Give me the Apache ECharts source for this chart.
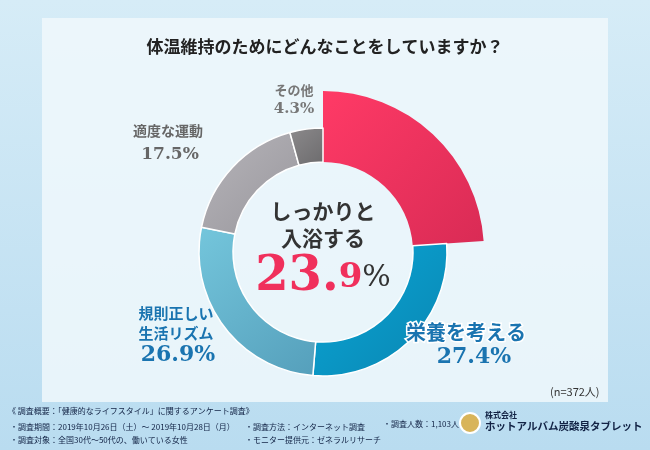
<!DOCTYPE html>
<html><head><meta charset="utf-8">
<script src="https://cdn.jsdelivr.net/npm/echarts@6/dist/echarts.min.js"></script>
<style>html,body{margin:0;padding:0}#main{width:650px;height:450px}</style>
</head><body><div id="main"></div>
<script>
var categories = ['しっかりと入浴する', '栄養を考える', '規則正しい生活リズム', '適度な運動', 'その他'];
var values = [23.9, 27.4, 26.9, 17.5, 4.3];
var colors = [['#ff3a66', '#d92b55'], ['#0aa6d6', '#0a86b2'], ['#74c6dc', '#559fbb'], ['#b7b5ba', '#98969c'], ['#8c8a8c', '#6c6b6d']];

function grad(c) {
    return new echarts.graphic.LinearGradient(0, 0, 1, 1, [{ offset: 0, color: c[0] }, { offset: 1, color: c[1] }]);
}

var serif = '"DejaVu Serif", "Noto Sans CJK JP", serif';
var jp = '"Noto Sans CJK JP", sans-serif';

var chart = echarts.init(document.getElementById('main'));

var bigData = values.map(function (v, i) {
    return { name: categories[i], value: v, itemStyle: { color: i === 0 ? grad(colors[0]) : 'transparent', borderWidth: 0 } };
});
var smallData = values.map(function (v, i) {
    return { name: categories[i], value: v, itemStyle: { color: i === 0 ? 'transparent' : grad(colors[i]), borderColor: i === 0 ? 'transparent' : '#fff', borderWidth: i === 0 ? 0 : 1.5 } };
});

function t(x, y, style) {
    style.fontFamily = style.fontFamily || jp;
    return { type: 'text', x: x, y: y, z: 100, style: style };
}

var option = {
    backgroundColor: new echarts.graphic.LinearGradient(0, 0, 0, 1, [{ offset: 0, color: '#d6ecf7' }, { offset: 1, color: '#b9dcf0' }]),
    graphic: [
        { type: 'rect', z: -10, shape: { x: 42, y: 18, width: 566, height: 384 }, style: { fill: 'rgba(240,248,252,0.85)' } },
        t(325, 38, { text: '体温維持のためにどんなことをしていますか？', fontSize: 17, fontWeight: 'bold', fill: '#222', align: 'center' }),
        t(294, 84, { text: 'その他', fontSize: 13, fontWeight: 'bold', fill: '#777', align: 'center' }),
        t(294, 102, { text: '4.3%', fontSize: 15, fontWeight: 'bold', fill: '#777', fontFamily: serif, align: 'center' }),
        t(168, 124, { text: '適度な運動', fontSize: 14, fontWeight: 'bold', fill: '#666', align: 'center' }),
        t(170, 146, { text: '17.5%', fontSize: 17, fontWeight: 'bold', fill: '#666', fontFamily: serif, align: 'center' }),
        t(176, 303, { text: '規則正しい\n生活リズム', fontSize: 15, lineHeight: 20, fontWeight: 'bold', fill: '#1a74b0', align: 'center' }),
        t(178, 344, { text: '26.9%', fontSize: 22, fontWeight: 'bold', fill: '#1a74b0', fontFamily: serif, align: 'center' }),
        t(466, 322, { text: '栄養を考える', fontSize: 20, fontWeight: 'bold', fill: '#1a74b0', align: 'center', stroke: '#fff', lineWidth: 3 }),
        t(474, 346, { text: '27.4%', fontSize: 22, fontWeight: 'bold', fill: '#1a74b0', fontFamily: serif, align: 'center' }),
        t(323, 198, { text: 'しっかりと\n入浴する', fontSize: 21, lineHeight: 27, fontWeight: 'bold', fill: '#333', align: 'center' }),
        t(323, 254, { text: '{a|23.}{b|9}{c|%}', align: 'center', rich: {
            a: { fontSize: 48, fontWeight: 'bold', fill: '#f0305c', fontFamily: serif },
            b: { fontSize: 34, fontWeight: 'bold', fill: '#f0305c', fontFamily: serif },
            c: { fontSize: 30, fill: '#333', fontFamily: serif } } }),
        t(550, 386, { text: '(n=372人)', fontSize: 11, fill: '#333' }),
        t(8, 407, { text: '《 調査概要：「健康的なライフスタイル」に関するアンケート調査》', fontSize: 8, fill: '#124' }),
        t(10, 420, { text: '・調査期間：2019年10月26日（土）～ 2019年10月28日（月）\n・調査対象：全国30代～50代の、働いている女性', fontSize: 8, lineHeight: 13, fill: '#124' }),
        t(245, 420, { text: '・調査方法：インターネット調査\n・モニター提供元：ゼネラルリサーチ', fontSize: 8, lineHeight: 13, fill: '#124' }),
        t(383, 420, { text: '・調査人数：1,103人', fontSize: 8, fill: '#124' }),
        { type: 'circle', z: 100, shape: { cx: 470, cy: 423, r: 10 }, style: { fill: '#d8b45a', stroke: '#fff', lineWidth: 2 } },
        t(485, 411, { text: '株式会社', fontSize: 8, fill: '#124', fontWeight: 'bold' }),
        t(485, 421, { text: 'ホットアルバム炭酸泉タブレット', fontSize: 10.5, fill: '#124', fontWeight: 'bold' })
    ],
    series: [
        { type: 'pie', center: [323, 252], radius: [90, 161], startAngle: 90, clockwise: true, silent: true, label: { show: false }, labelLine: { show: false }, data: bigData },
        { type: 'pie', center: [323, 252], radius: [90, 124], startAngle: 90, clockwise: true, silent: true, label: { show: false }, labelLine: { show: false }, data: smallData }
    ]
};
chart.setOption(option);
</script>
</body></html>
